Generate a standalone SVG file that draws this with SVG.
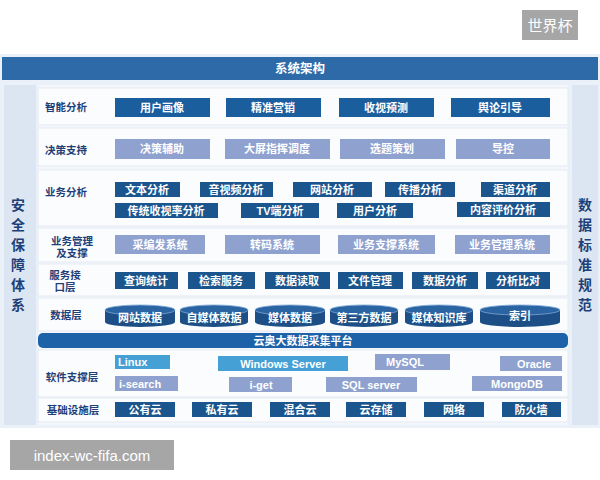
<svg xmlns="http://www.w3.org/2000/svg" width="600" height="480" viewBox="0 0 600 480">
<defs>
<style>
text{font-family:"Liberation Sans","Noto Sans CJK SC",sans-serif;font-weight:bold;text-anchor:middle;dominant-baseline:central}
.lbl{fill:#1f3f78;font-size:10.5px}
.side{fill:#1f3f78;font-size:14px}
.bt{fill:#fff;font-size:11px}
.st{text-anchor:start}
.dk{fill:#1b5e9e}
.lp{fill:#8fa2cf}
.lb{fill:#45a0d6}
.db{fill:#1a558e}
.row{fill:#fbfcfe;stroke:#e3ebf4;stroke-width:1}
.cyl{fill:#1d4f86}
.cyltop{fill:#2a64a3;stroke:#7fa8d4;stroke-width:0.8}
.wm{fill:#a6a6a6}
.wmt{fill:#fff;font-weight:normal;font-size:15px}
</style>
</defs>
<rect width="600" height="480" fill="#fff"/>
<g id="wm1"><rect class="wm" x="522" y="10" width="56" height="30"/><text class="wmt" x="550" y="25">世界杯</text></g>
<rect x="0" y="54" width="600" height="374" fill="#eaf1f8"/>
<g id="title"><rect x="2" y="57" width="596" height="23" fill="#2f6aa8"/><text x="300" y="69" fill="#fff" font-size="12.5">系统架构</text></g>
<g id="left"><rect x="4" y="85" width="32" height="340" fill="#dbe6f2"/>
<text class="side" x="18" y="205">安</text><text class="side" x="18" y="225">全</text><text class="side" x="18" y="245">保</text><text class="side" x="18" y="265">障</text><text class="side" x="18" y="285">体</text><text class="side" x="18" y="305">系</text></g>
<g id="right"><rect x="572" y="85" width="26" height="340" fill="#dbe6f2"/>
<text class="side" x="585" y="205">数</text><text class="side" x="585" y="225">据</text><text class="side" x="585" y="245">标</text><text class="side" x="585" y="265">准</text><text class="side" x="585" y="285">规</text><text class="side" x="585" y="305">范</text></g>
<rect x="38" y="85" width="530" height="340" fill="#f3f7fb"/>
<g id="rows">
<rect class="row" x="38" y="88" width="530" height="37"/>
<rect class="row" x="38" y="128" width="530" height="38"/>
<rect class="row" x="38" y="170" width="530" height="56"/>
<rect class="row" x="38" y="228" width="530" height="34"/>
<rect class="row" x="38" y="264" width="530" height="32"/>
<rect class="row" x="38" y="298" width="530" height="33"/>
<rect class="row" x="38" y="350" width="530" height="47"/>
<rect class="row" x="38" y="398" width="530" height="24"/>
</g>
<g id="r1"><text class="lbl" x="66" y="107">智能分析</text>
<rect class="dk" x="115" y="98" width="95" height="19"/><text class="bt" x="162" y="107.5">用户画像</text>
<rect class="dk" x="226" y="98" width="95" height="19"/><text class="bt" x="273" y="107.5">精准营销</text>
<rect class="dk" x="339" y="98" width="95" height="19"/><text class="bt" x="386" y="107.5">收视预测</text>
<rect class="dk" x="451" y="98" width="99" height="19"/><text class="bt" x="500" y="107.5">舆论引导</text></g>
<g id="r2"><text class="lbl" x="66" y="150">决策支持</text>
<rect class="lp" x="115" y="139" width="95" height="20"/><text class="bt" x="162" y="149">决策辅助</text>
<rect class="lp" x="225" y="139" width="105" height="20"/><text class="bt" x="277" y="149">大屏指挥调度</text>
<rect class="lp" x="340" y="139" width="105" height="20"/><text class="bt" x="392" y="149">选题策划</text>
<rect class="lp" x="456" y="139" width="94" height="20"/><text class="bt" x="503" y="149">导控</text></g>
<g id="r3"><text class="lbl" x="66" y="192">业务分析</text>
<rect class="db" x="115" y="182" width="65" height="15"/><text class="bt" x="147" y="189.5">文本分析</text>
<rect class="db" x="200" y="182" width="73" height="15"/><text class="bt" x="236" y="189.5">音视频分析</text>
<rect class="db" x="293" y="182" width="79" height="15"/><text class="bt" x="332" y="189.5">网站分析</text>
<rect class="db" x="385" y="182" width="70" height="15"/><text class="bt" x="420" y="189.5">传播分析</text>
<rect class="db" x="481" y="182" width="69" height="15"/><text class="bt" x="515" y="189.5">渠道分析</text>
<rect class="db" x="115" y="203" width="103" height="15"/><text class="bt" x="166" y="210.5">传统收视率分析</text>
<rect class="db" x="241" y="203" width="78" height="15"/><text class="bt" x="280" y="210.5">TV端分析</text>
<rect class="db" x="337" y="203" width="76" height="15"/><text class="bt" x="375" y="210.5">用户分析</text>
<rect class="db" x="457" y="202" width="93" height="15"/><text class="bt" x="503" y="209.5">内容评价分析</text></g>
<g id="r4"><text class="lbl" x="72" y="241">业务管理</text><text class="lbl" x="72" y="253">及支撑</text>
<rect class="lp" x="115" y="235" width="90" height="19"/><text class="bt" x="160" y="244.5">采编发系统</text>
<rect class="lp" x="225" y="235" width="95" height="19"/><text class="bt" x="272" y="244.5">转码系统</text>
<rect class="lp" x="338" y="235" width="97" height="19"/><text class="bt" x="386" y="244.5">业务支撑系统</text>
<rect class="lp" x="455" y="235" width="95" height="19"/><text class="bt" x="502" y="244.5">业务管理系统</text></g>
<g id="r5"><text class="lbl" x="65" y="275">服务接</text><text class="lbl" x="65" y="287">口层</text>
<rect class="db" x="115" y="272" width="63" height="17"/><text class="bt" x="146" y="280.5">查询统计</text>
<rect class="db" x="188" y="272" width="67" height="17"/><text class="bt" x="221" y="280.5">检索服务</text>
<rect class="db" x="265" y="272" width="65" height="17"/><text class="bt" x="297" y="280.5">数据读取</text>
<rect class="db" x="338" y="272" width="65" height="17"/><text class="bt" x="370" y="280.5">文件管理</text>
<rect class="db" x="412" y="272" width="66" height="17"/><text class="bt" x="445" y="280.5">数据分析</text>
<rect class="db" x="486" y="272" width="64" height="17"/><text class="bt" x="518" y="280.5">分析比对</text></g>
<g id="r6"><text class="lbl" x="66" y="315">数据层</text>
<path class="cyl" d="M105,310 v12 a35,5 0 0 0 70,0 v-12 z"/><ellipse class="cyltop" cx="140" cy="310" rx="35" ry="5"/><text class="bt" x="140" y="318">网站数据</text>
<path class="cyl" d="M180,310 v12 a34,5 0 0 0 68,0 v-12 z"/><ellipse class="cyltop" cx="214" cy="310" rx="34" ry="5"/><text class="bt" x="214" y="318">自媒体数据</text>
<path class="cyl" d="M255,310 v12 a35,5 0 0 0 70,0 v-12 z"/><ellipse class="cyltop" cx="290" cy="310" rx="35" ry="5"/><text class="bt" x="290" y="318">媒体数据</text>
<path class="cyl" d="M330,310 v12 a34,5 0 0 0 68,0 v-12 z"/><ellipse class="cyltop" cx="364" cy="310" rx="34" ry="5"/><text class="bt" x="364" y="318">第三方数据</text>
<path class="cyl" d="M405,310 v12 a34,5 0 0 0 68,0 v-12 z"/><ellipse class="cyltop" cx="439" cy="310" rx="34" ry="5"/><text class="bt" x="439" y="318">媒体知识库</text>
<path class="cyl" d="M480,310 v12 a40,5 0 0 0 80,0 v-12 z"/><ellipse class="cyltop" cx="520" cy="310" rx="40" ry="5"/><text class="bt" x="520" y="316">索引</text></g>
<g id="platform"><rect x="38" y="333" width="530" height="15" rx="5" fill="#1d62a8"/><text x="303" y="340.5" fill="#fff" font-size="11">云奥大数据采集平台</text></g>
<g id="r7"><text class="lbl" x="72" y="377">软件支撑层</text>
<rect class="lb" x="115" y="355" width="55" height="14"/><text class="bt st" x="118" y="362">Linux</text>
<rect class="lb" x="218" y="356" width="130" height="15"/><text class="bt" x="283" y="363.5">Windows Server</text>
<rect class="lp" x="375" y="354" width="75" height="16"/><text class="bt" x="405" y="361.5">MySQL</text>
<rect class="lp" x="500" y="356" width="62" height="15"/><text class="bt" x="534" y="363.5">Oracle</text>
<rect class="lp" x="115" y="376" width="63" height="15"/><text class="bt st" x="119" y="383.5">i-search</text>
<rect class="lp" x="229" y="377" width="63" height="15"/><text class="bt" x="261" y="384.5">i-get</text>
<rect class="lp" x="326" y="377" width="91" height="15"/><text class="bt" x="371" y="384.5">SQL server</text>
<rect class="lp" x="472" y="376" width="90" height="15"/><text class="bt" x="517" y="383.5">MongoDB</text></g>
<g id="r8"><text class="lbl" x="73" y="410">基础设施层</text>
<rect class="db" x="115" y="402" width="60" height="15"/><text class="bt" x="145" y="409.5">公有云</text>
<rect class="db" x="192" y="402" width="60" height="15"/><text class="bt" x="222" y="409.5">私有云</text>
<rect class="db" x="270" y="402" width="60" height="15"/><text class="bt" x="300" y="409.5">混合云</text>
<rect class="db" x="346" y="402" width="60" height="15"/><text class="bt" x="376" y="409.5">云存储</text>
<rect class="db" x="424" y="402" width="60" height="15"/><text class="bt" x="454" y="409.5">网络</text>
<rect class="db" x="502" y="402" width="59" height="15"/><text class="bt" x="531" y="409.5">防火墙</text></g>
<g id="wm2"><rect class="wm" x="10" y="440" width="164" height="30"/><text class="wmt" x="92" y="455">index-wc-fifa.com</text></g>
</svg>
